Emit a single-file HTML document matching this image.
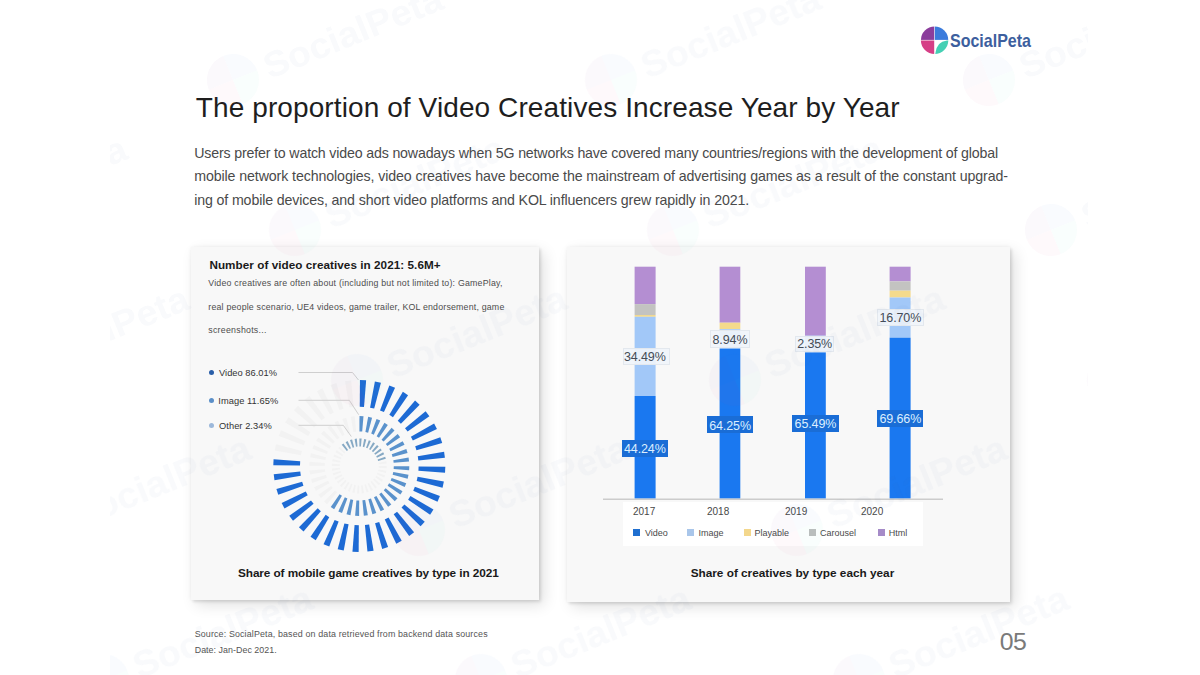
<!DOCTYPE html>
<html><head><meta charset="utf-8">
<style>
*{margin:0;padding:0;box-sizing:border-box}
html,body{width:1200px;height:675px;overflow:hidden;background:#fff}
body{position:relative;font-family:"Liberation Sans",sans-serif;color:#222}
.abs{position:absolute;white-space:nowrap}
.title{left:195px;top:88px;font-size:28px;color:#1e1e1e;letter-spacing:0.35px}
.para{left:195px;font-size:13.6px;color:#4a4a4a}
.card{position:absolute;background:#f8f8f8;box-shadow:0 0 4px rgba(0,0,0,0.05),2px 2px 3px rgba(0,0,0,0.10),5px 5px 14px rgba(0,0,0,0.12)}
.ctitle{font-weight:bold;font-size:11.6px;color:#1a1a1a}
.small{font-size:8.2px;color:#4d4d4d}
.leg{font-size:9.2px;color:#333}
.dot{position:absolute;width:5px;height:5px;border-radius:50%}
.cap{font-weight:bold;font-size:11.4px;color:#1a1a1a}
.lbl{position:absolute;font-size:12.5px;text-align:center;letter-spacing:-0.1px;padding-left:0.2px}
.lw{background:rgba(240,244,250,0.92);color:#444c56;border:1px solid #e3e8ee}
.lb{background:#1a6dd6;color:#dcefff}
.yr{font-size:10px;color:#484848}
.lg{font-size:9px;color:#4a4a4a}
.sq{position:absolute;width:7px;height:7.3px}
.foot{font-size:8.4px;color:#555;left:195px}
</style></head>
<body>
<!-- logo -->
<svg class="abs" style="left:918px;top:24px" width="34" height="34" viewBox="0 0 34 34">
  <defs>
    <clipPath id="lc"><circle cx="16.6" cy="16.2" r="13.7"/></clipPath>
  </defs>
  <g clip-path="url(#lc)">
    <rect x="0" y="0" width="16.2" height="15.9" fill="#8b3d9c"/>
    <rect x="16.8" y="0" width="20" height="15.9" fill="#3b7bdc"/>
    <rect x="0" y="16.5" width="16.2" height="20" fill="#d63f86"/>
    <path d="M17.3 34 L17.3 29.5 Q18.5 17.5 29 16.5 L34 16.5 L34 34 Z" fill="#45d0b4"/>
  </g>
</svg>
<div id="sp" class="abs" style="left:950.3px;top:32.6px;font-size:17.7px;line-height:1;font-weight:bold;color:#3d5f9e;transform:scaleX(0.905);transform-origin:0 0">SocialPeta</div>



<!-- left card -->
<div class="card" style="left:191px;top:247px;width:348px;height:353px"></div>

<div class="dot" style="left:208.5px;top:370px;background:#2a5ea8"></div>
<div class="dot" style="left:208.5px;top:397.5px;background:#5b8fc8"></div>
<div class="dot" style="left:208.5px;top:423px;background:#9cb8da"></div>

<svg class="abs" style="left:0;top:0" width="1200" height="675">
<polygon points="359.95,380.00 366.15,380.27 364.02,406.89 359.75,406.70" fill="#1d6ad4"/>
<polygon points="374.88,381.42 380.93,382.76 374.21,408.61 370.04,407.68" fill="#1d6ad4"/>
<polygon points="389.33,385.41 395.05,387.78 383.95,412.07 380.00,410.43" fill="#1d6ad4"/>
<polygon points="402.86,391.85 408.09,395.18 392.94,417.17 389.34,414.87" fill="#1d6ad4"/>
<polygon points="415.08,400.54 419.65,404.73 400.91,423.75 397.76,420.86" fill="#1d6ad4"/>
<polygon points="425.60,411.22 429.37,416.14 407.62,431.62 405.01,428.23" fill="#1d6ad4"/>
<polygon points="434.10,423.57 436.96,429.06 412.85,440.53 410.88,436.74" fill="#1d6ad4"/>
<polygon points="440.33,437.20 442.20,443.11 416.46,450.22 415.18,446.14" fill="#1d6ad4"/>
<polygon points="444.10,451.71 444.91,457.85 418.33,460.38 417.78,456.15" fill="#1d6ad4"/>
<polygon points="445.30,466.65 445.03,472.85 418.41,470.72 418.60,466.45" fill="#1d6ad4"/>
<polygon points="443.88,481.58 442.54,487.63 416.69,480.91 417.62,476.74" fill="#1d6ad4"/>
<polygon points="439.89,496.03 437.52,501.75 413.23,490.65 414.87,486.70" fill="#1d6ad4"/>
<polygon points="433.45,509.56 430.12,514.79 408.13,499.64 410.43,496.04" fill="#1d6ad4"/>
<polygon points="424.76,521.78 420.57,526.35 401.55,507.61 404.44,504.46" fill="#1d6ad4"/>
<polygon points="414.08,532.30 409.16,536.07 393.68,514.32 397.07,511.71" fill="#1d6ad4"/>
<polygon points="401.73,540.80 396.24,543.66 384.77,519.55 388.56,517.58" fill="#1d6ad4"/>
<polygon points="388.10,547.03 382.19,548.90 375.08,523.16 379.16,521.88" fill="#1d6ad4"/>
<polygon points="373.59,550.80 367.45,551.61 364.92,525.03 369.15,524.48" fill="#1d6ad4"/>
<polygon points="358.65,552.00 352.45,551.73 354.58,525.11 358.85,525.30" fill="#1d6ad4"/>
<polygon points="343.72,550.58 337.67,549.24 344.39,523.39 348.56,524.32" fill="#1d6ad4"/>
<polygon points="329.27,546.59 323.55,544.22 334.65,519.93 338.60,521.57" fill="#1d6ad4"/>
<polygon points="315.74,540.15 310.51,536.82 325.66,514.83 329.26,517.13" fill="#1d6ad4"/>
<polygon points="303.52,531.46 298.95,527.27 317.69,508.25 320.84,511.14" fill="#1d6ad4"/>
<polygon points="293.00,520.78 289.23,515.86 310.98,500.38 313.59,503.77" fill="#1d6ad4"/>
<polygon points="284.50,508.43 281.64,502.94 305.75,491.47 307.72,495.26" fill="#1d6ad4"/>
<polygon points="278.27,494.80 276.40,488.89 302.14,481.78 303.42,485.86" fill="#1d6ad4"/>
<polygon points="274.50,480.29 273.69,474.15 300.27,471.62 300.82,475.85" fill="#1d6ad4"/>
<polygon points="273.30,465.35 273.57,459.15 300.19,461.28 300.00,465.55" fill="#1d6ad4"/>
<polygon points="274.72,450.42 276.06,444.37 301.91,451.09 300.98,455.26" fill="#f2f2f2"/>
<polygon points="278.71,435.97 281.08,430.25 305.37,441.35 303.73,445.30" fill="#f2f2f2"/>
<polygon points="285.15,422.44 288.48,417.21 310.47,432.36 308.17,435.96" fill="#f2f2f2"/>
<polygon points="293.84,410.22 298.03,405.65 317.05,424.39 314.16,427.54" fill="#f2f2f2"/>
<polygon points="304.52,399.70 309.44,395.93 324.92,417.68 321.53,420.29" fill="#f2f2f2"/>
<polygon points="316.87,391.20 322.36,388.34 333.83,412.45 330.04,414.42" fill="#f2f2f2"/>
<polygon points="330.50,384.97 336.41,383.10 343.52,408.84 339.44,410.12" fill="#f2f2f2"/>
<polygon points="345.01,381.20 351.15,380.39 353.68,406.97 349.45,407.52" fill="#f2f2f2"/>
<polygon points="359.48,416.00 363.48,416.17 362.18,431.62 359.43,431.50" fill="#5a92cc"/>
<polygon points="368.16,416.79 372.07,417.66 368.11,432.64 365.41,432.05" fill="#5a92cc"/>
<polygon points="376.57,419.08 380.27,420.61 373.77,434.68 371.22,433.62" fill="#5a92cc"/>
<polygon points="384.46,422.79 387.83,424.94 378.99,437.67 376.66,436.18" fill="#5a92cc"/>
<polygon points="391.58,427.81 394.53,430.52 383.61,441.52 381.57,439.65" fill="#5a92cc"/>
<polygon points="397.72,434.00 400.15,437.17 387.49,446.11 385.81,443.92" fill="#5a92cc"/>
<polygon points="402.69,441.16 404.54,444.70 390.51,451.31 389.24,448.86" fill="#5a92cc"/>
<polygon points="406.35,449.07 407.55,452.88 392.59,456.95 391.76,454.32" fill="#5a92cc"/>
<polygon points="408.57,457.50 409.09,461.46 393.66,462.87 393.30,460.13" fill="#5a92cc"/>
<polygon points="409.30,466.18 409.13,470.18 393.68,468.88 393.80,466.13" fill="#5a92cc"/>
<polygon points="408.51,474.86 407.64,478.77 392.66,474.81 393.25,472.11" fill="#5a92cc"/>
<polygon points="406.22,483.27 404.69,486.97 390.62,480.47 391.68,477.92" fill="#5a92cc"/>
<polygon points="402.51,491.16 400.36,494.53 387.63,485.69 389.12,483.36" fill="#5a92cc"/>
<polygon points="397.49,498.28 394.78,501.23 383.78,490.31 385.65,488.27" fill="#5a92cc"/>
<polygon points="391.30,504.42 388.13,506.85 379.19,494.19 381.38,492.51" fill="#5a92cc"/>
<polygon points="384.14,509.39 380.60,511.24 373.99,497.21 376.44,495.94" fill="#5a92cc"/>
<polygon points="376.23,513.05 372.42,514.25 368.35,499.29 370.98,498.46" fill="#5a92cc"/>
<polygon points="367.80,515.27 363.84,515.79 362.43,500.36 365.17,500.00" fill="#5a92cc"/>
<polygon points="359.12,516.00 355.12,515.83 356.42,500.38 359.17,500.50" fill="#5a92cc"/>
<polygon points="350.44,515.21 346.53,514.34 350.49,499.36 353.19,499.95" fill="#5a92cc"/>
<polygon points="342.03,512.92 338.33,511.39 344.83,497.32 347.38,498.38" fill="#5a92cc"/>
<polygon points="334.14,509.21 330.77,507.06 339.61,494.33 341.94,495.82" fill="#5a92cc"/>
<polygon points="327.02,504.19 324.07,501.48 334.99,490.48 337.03,492.35" fill="#f2f2f2"/>
<polygon points="320.88,498.00 318.45,494.83 331.11,485.89 332.79,488.08" fill="#f2f2f2"/>
<polygon points="315.91,490.84 314.06,487.30 328.09,480.69 329.36,483.14" fill="#f2f2f2"/>
<polygon points="312.25,482.93 311.05,479.12 326.01,475.05 326.84,477.68" fill="#f2f2f2"/>
<polygon points="310.03,474.50 309.51,470.54 324.94,469.13 325.30,471.87" fill="#f2f2f2"/>
<polygon points="309.30,465.82 309.47,461.82 324.92,463.12 324.80,465.87" fill="#f2f2f2"/>
<polygon points="310.09,457.14 310.96,453.23 325.94,457.19 325.35,459.89" fill="#f2f2f2"/>
<polygon points="312.38,448.73 313.91,445.03 327.98,451.53 326.92,454.08" fill="#f2f2f2"/>
<polygon points="316.09,440.84 318.24,437.47 330.97,446.31 329.48,448.64" fill="#f2f2f2"/>
<polygon points="321.11,433.72 323.82,430.77 334.82,441.69 332.95,443.73" fill="#f2f2f2"/>
<polygon points="327.30,427.58 330.47,425.15 339.41,437.81 337.22,439.49" fill="#f2f2f2"/>
<polygon points="334.46,422.61 338.00,420.76 344.61,434.79 342.16,436.06" fill="#f2f2f2"/>
<polygon points="342.37,418.95 346.18,417.75 350.25,432.71 347.62,433.54" fill="#f2f2f2"/>
<polygon points="350.80,416.73 354.76,416.21 356.17,431.64 353.43,432.00" fill="#f2f2f2"/>
<polygon points="341.70,444.87 343.44,443.53 348.06,450.07 346.82,451.02" fill="#86a9c4"/>
<polygon points="345.64,442.13 347.59,441.12 350.99,448.36 349.61,449.08" fill="#86a9c4"/>
<polygon points="349.99,440.12 352.09,439.46 354.18,447.18 352.70,447.65" fill="#86a9c4"/>
<polygon points="354.62,438.90 356.80,438.61 357.53,446.58 355.98,446.78" fill="#86a9c4"/>
<polygon points="359.40,438.50 361.60,438.60 360.93,446.57 359.37,446.50" fill="#86a9c4"/>
<polygon points="364.17,438.94 366.32,439.41 364.28,447.15 362.76,446.81" fill="#86a9c4"/>
<polygon points="368.80,440.19 370.83,441.03 367.48,448.30 366.04,447.70" fill="#86a9c4"/>
<polygon points="373.14,442.23 374.99,443.42 370.43,449.99 369.11,449.15" fill="#86a9c4"/>
<polygon points="377.05,445.00 378.67,446.48 373.04,452.16 371.89,451.11" fill="#86a9c4"/>
<polygon points="380.43,448.40 381.77,450.14 375.23,454.76 374.28,453.52" fill="#86a9c4"/>
<polygon points="383.17,452.34 384.18,454.29 376.94,457.69 376.22,456.31" fill="#86a9c4"/>
<polygon points="385.18,456.69 385.84,458.79 378.12,460.88 377.65,459.40" fill="#86a9c4"/>
<polygon points="386.40,461.32 386.69,463.50 378.72,464.23 378.52,462.68" fill="#f2f2f2"/>
<polygon points="386.80,466.10 386.70,468.30 378.73,467.63 378.80,466.07" fill="#f2f2f2"/>
<polygon points="386.36,470.87 385.89,473.02 378.15,470.98 378.49,469.46" fill="#f2f2f2"/>
<polygon points="385.11,475.50 384.27,477.53 377.00,474.18 377.60,472.74" fill="#f2f2f2"/>
<polygon points="383.07,479.84 381.88,481.69 375.31,477.13 376.15,475.81" fill="#f2f2f2"/>
<polygon points="380.30,483.75 378.82,485.37 373.14,479.74 374.19,478.59" fill="#f2f2f2"/>
<polygon points="376.90,487.13 375.16,488.47 370.54,481.93 371.78,480.98" fill="#f2f2f2"/>
<polygon points="372.96,489.87 371.01,490.88 367.61,483.64 368.99,482.92" fill="#f2f2f2"/>
<polygon points="368.61,491.88 366.51,492.54 364.42,484.82 365.90,484.35" fill="#f2f2f2"/>
<polygon points="363.98,493.10 361.80,493.39 361.07,485.42 362.62,485.22" fill="#f2f2f2"/>
<polygon points="359.20,493.50 357.00,493.40 357.67,485.43 359.23,485.50" fill="#f2f2f2"/>
<polygon points="354.43,493.06 352.28,492.59 354.32,484.85 355.84,485.19" fill="#f2f2f2"/>
<polygon points="349.80,491.81 347.77,490.97 351.12,483.70 352.56,484.30" fill="#f2f2f2"/>
<polygon points="345.46,489.77 343.61,488.58 348.17,482.01 349.49,482.85" fill="#f2f2f2"/>
<polygon points="341.55,487.00 339.93,485.52 345.56,479.84 346.71,480.89" fill="#f2f2f2"/>
<polygon points="338.17,483.60 336.83,481.86 343.37,477.24 344.32,478.48" fill="#f2f2f2"/>
<polygon points="335.43,479.66 334.42,477.71 341.66,474.31 342.38,475.69" fill="#f2f2f2"/>
<polygon points="333.42,475.31 332.76,473.21 340.48,471.12 340.95,472.60" fill="#f2f2f2"/>
<polygon points="332.20,470.68 331.91,468.50 339.88,467.77 340.08,469.32" fill="#f2f2f2"/>
<polygon points="331.80,465.90 331.90,463.70 339.87,464.37 339.80,465.93" fill="#f2f2f2"/>
<polygon points="332.24,461.13 332.71,458.98 340.45,461.02 340.11,462.54" fill="#f2f2f2"/>
<polygon points="333.49,456.50 334.33,454.47 341.60,457.82 341.00,459.26" fill="#f2f2f2"/>
<polygon points="335.53,452.16 336.72,450.31 343.29,454.87 342.45,456.19" fill="#f2f2f2"/>
<polygon points="338.30,448.25 339.78,446.63 345.46,452.26 344.41,453.41" fill="#f2f2f2"/>
  <g fill="none" stroke="#cfcfcf" stroke-width="1">
    <polyline points="298.5,372.5 352.5,372.5 358.5,380"/>
    <polyline points="298.5,400.3 349.3,400.3 358.7,414.7"/>
    <polyline points="298.5,425.3 343.3,425.3 351.3,436.5"/>
  </g>
</svg>


<!-- right card -->
<div class="card" style="left:567px;top:247px;width:443px;height:355px"></div>
<div class="abs" style="left:623px;top:502px;width:300px;height:44px;background:#fff"></div>
<svg class="abs" style="left:0;top:0" width="1200" height="675">
  <!-- 2017 -->
  <rect x="634.6" y="266.7" width="21" height="37.4" fill="#b48ed2"/>
  <rect x="634.6" y="304.1" width="21" height="10.9" fill="#c3c3c1"/>
  <rect x="634.6" y="315" width="21" height="1.8" fill="#f2d98e"/>
  <rect x="634.6" y="316.8" width="21" height="79.2" fill="#a2c8f8"/>
  <rect x="634.6" y="396" width="21" height="102.6" fill="#1a78f0"/>
  <!-- 2018 -->
  <rect x="719.6" y="266.7" width="20.7" height="56" fill="#b48ed2"/>
  <rect x="719.6" y="322.7" width="20.7" height="6.5" fill="#f4da8c"/>
  <rect x="719.6" y="329.2" width="20.7" height="19.5" fill="#a2c8f8"/>
  <rect x="719.6" y="348.7" width="20.7" height="149.9" fill="#1a78f0"/>
  <!-- 2019 -->
  <rect x="805" y="266.7" width="20.8" height="69" fill="#b48ed2"/>
  <rect x="805" y="335.7" width="20.8" height="16.8" fill="#a2c8f8"/>
  <rect x="805" y="352.5" width="20.8" height="146.1" fill="#1a78f0"/>
  <!-- 2020 -->
  <rect x="889.6" y="266.7" width="21" height="14.7" fill="#b48ed2"/>
  <rect x="889.6" y="281.4" width="21" height="9.3" fill="#c3c3c1"/>
  <rect x="889.6" y="290.7" width="21" height="6.8" fill="#f4da8c"/>
  <rect x="889.6" y="297.5" width="21" height="40.2" fill="#a2c8f8"/>
  <rect x="889.6" y="337.7" width="21" height="160.9" fill="#1a78f0"/>
  <line x1="603" y1="499.3" x2="943" y2="499.3" stroke="#cccccc" stroke-width="1.5"/>
</svg>
<div class="lbl lw" style="text-indent:-2.5px;left:622.5px;top:347.5px;width:47.0px;height:17.5px;line-height:16.9px">34.49%</div>
<div class="lbl lw" style="left:710px;top:329.7px;width:39.7px;height:18.6px;line-height:18.0px">8.94%</div>
<div class="lbl lw" style="left:795.3px;top:335.7px;width:38.5px;height:16.5px;line-height:15.9px">2.35%</div>
<div class="lbl lw" style="left:877px;top:308.7px;width:46.5px;height:17.6px;line-height:17.0px">16.70%</div>
<div class="lbl lb" style="left:621.75px;top:440px;width:46.0px;height:16.5px;line-height:19.5px">44.24%</div>
<div class="lbl lb" style="left:706.7px;top:416.2px;width:46.5px;height:17.1px;line-height:20.1px">64.25%</div>
<div class="lbl lb" style="left:792px;top:415.1px;width:46.7px;height:16.6px;line-height:19.6px">65.49%</div>
<div class="lbl lb" style="left:877px;top:410.1px;width:46.4px;height:16.9px;line-height:19.9px">69.66%</div>

<div class="abs yr" style="left:633px;top:506px">2017</div>
<div class="abs yr" style="left:707px;top:506px">2018</div>
<div class="abs yr" style="left:785px;top:506px">2019</div>
<div class="abs yr" style="left:861px;top:506px">2020</div>

<div class="sq" style="left:633px;top:528.9px;background:#1f6fd0"></div>
<div class="abs lg" style="left:645px;top:528px">Video</div>
<div class="sq" style="left:686.8px;top:528.9px;background:#a9c6ea"></div>
<div class="abs lg" style="left:698.5px;top:528px">Image</div>
<div class="sq" style="left:744.3px;top:528.9px;background:#f3d78c"></div>
<div class="abs lg" style="left:754.5px;top:528px">Playable</div>
<div class="sq" style="left:808.5px;top:528.9px;background:#bdbdbd"></div>
<div class="abs lg" style="left:820px;top:528px">Carousel</div>
<div class="sq" style="left:877.5px;top:528.9px;background:#a58bc8"></div>
<div class="abs lg" style="left:888.7px;top:528px">Html</div>


<div id="title" class="abs" style="left:195.8px;top:93.9px;font-size:28px;line-height:1;color:#1e1e1e;letter-spacing:0.1px">The proportion of Video Creatives Increase Year by Year</div>
<div id="p1" class="abs" style="left:194.2px;top:145.5px;font-size:14.2px;line-height:1;color:#4a4a4a;letter-spacing:-0.1642px">Users prefer to watch video ads nowadays when 5G networks have covered many countries/regions with the development of global</div>
<div id="p2" class="abs" style="left:194.2px;top:168.8px;font-size:14.2px;line-height:1;color:#4a4a4a;letter-spacing:-0.1px">mobile network technologies, video creatives have become the mainstream of advertising games as a result of the constant upgrad-</div>
<div id="p3" class="abs" style="left:194.2px;top:192.5px;font-size:14.2px;line-height:1;color:#4a4a4a;letter-spacing:-0.1292px">ing of mobile devices, and short video platforms and KOL influencers grew rapidly in 2021.</div>
<div id="ct" class="abs" style="left:209.4px;top:258.7px;font-size:11.7px;line-height:1;color:#1a1a1a;letter-spacing:0.0564px;font-weight:bold">Number of video creatives in 2021: 5.6M+</div>
<div id="s1" class="abs" style="left:208.3px;top:279.2px;font-size:8.8px;line-height:1;color:#4d4d4d;letter-spacing:0.2042px">Video creatives are often about (including but not limited to): GamePlay,</div>
<div id="s2" class="abs" style="left:208.3px;top:303.1px;font-size:8.8px;line-height:1;color:#4d4d4d;letter-spacing:0.1941px">real people scenario, UE4 videos, game trailer, KOL endorsement, game</div>
<div id="s3" class="abs" style="left:208.3px;top:326.3px;font-size:8.8px;line-height:1;color:#4d4d4d;letter-spacing:0.2538px">screenshots...</div>
<div id="l1" class="abs" style="left:219.0px;top:369.0px;font-size:9.3px;line-height:1;color:#333;letter-spacing:0.0182px">Video 86.01%</div>
<div id="l2" class="abs" style="left:218.3px;top:396.7px;font-size:9.3px;line-height:1;color:#333;letter-spacing:0.0545px">Image 11.65%</div>
<div id="l3" class="abs" style="left:219.0px;top:422.2px;font-size:9.3px;line-height:1;color:#333;letter-spacing:0.05px">Other 2.34%</div>
<div id="capL" class="abs" style="left:238.0px;top:567.8px;font-size:11.8px;line-height:1;color:#1a1a1a;letter-spacing:-0.0933px;font-weight:bold">Share of mobile game creatives by type in 2021</div>
<div id="capR" class="abs" style="left:690.7px;top:568.0px;font-size:11.8px;line-height:1;color:#1a1a1a;letter-spacing:-0.0114px;font-weight:bold">Share of creatives by type each year</div>
<div id="f1" class="abs" style="left:194.7px;top:630.0px;font-size:8.9px;line-height:1;color:#555;letter-spacing:0.1426px">Source: SocialPeta, based on data retrieved from backend data sources</div>
<div id="f2" class="abs" style="left:194.7px;top:646.2px;font-size:8.9px;line-height:1;color:#555;letter-spacing:0.0333px">Date: Jan-Dec 2021.</div>
<div id="pg" class="abs" style="left:999.7px;top:630.2px;font-size:24.8px;line-height:1;color:#7a7a7a;letter-spacing:-0.4px">05</div>
<svg class="abs" style="left:0;top:0;pointer-events:none" width="1200" height="675">
  <defs>
    <clipPath id="wmclip"><rect x="110" y="0" width="978" height="675"/></clipPath>
    <g id="wm">
      <path d="M0 0 L0 -26 A26 26 0 0 0 -26 0 Z" fill="#8b3d9c"/>
      <path d="M0 0 L26 0 A26 26 0 0 0 0 -26 Z" fill="#3b7bdc"/>
      <path d="M0 0 L-26 0 A26 26 0 0 0 0 26 Z" fill="#d63f86"/>
      <path d="M0 0 L0 26 A26 26 0 0 0 26 0 Z" fill="#45d0b4"/>
      <text x="34" y="13" font-family="Liberation Sans" font-weight="bold" font-size="36" textLength="190" lengthAdjust="spacingAndGlyphs" fill="#3d5f9e">SocialPeta</text>
    </g>
  </defs>
  <g clip-path="url(#wmclip)" opacity="0.035">
<use href="#wm" transform="translate(-145,80) rotate(-22)"/>
<use href="#wm" transform="translate(233,80) rotate(-22)"/>
<use href="#wm" transform="translate(611,80) rotate(-22)"/>
<use href="#wm" transform="translate(989,80) rotate(-22)"/>
<use href="#wm" transform="translate(-83,230) rotate(-22)"/>
<use href="#wm" transform="translate(295,230) rotate(-22)"/>
<use href="#wm" transform="translate(673,230) rotate(-22)"/>
<use href="#wm" transform="translate(1051,230) rotate(-22)"/>
<use href="#wm" transform="translate(-21,380) rotate(-22)"/>
<use href="#wm" transform="translate(357,380) rotate(-22)"/>
<use href="#wm" transform="translate(735,380) rotate(-22)"/>
<use href="#wm" transform="translate(1113,380) rotate(-22)"/>
<use href="#wm" transform="translate(41,530) rotate(-22)"/>
<use href="#wm" transform="translate(419,530) rotate(-22)"/>
<use href="#wm" transform="translate(797,530) rotate(-22)"/>
<use href="#wm" transform="translate(103,680) rotate(-22)"/>
<use href="#wm" transform="translate(481,680) rotate(-22)"/>
<use href="#wm" transform="translate(859,680) rotate(-22)"/>
  </g>
</svg>
</body></html>
